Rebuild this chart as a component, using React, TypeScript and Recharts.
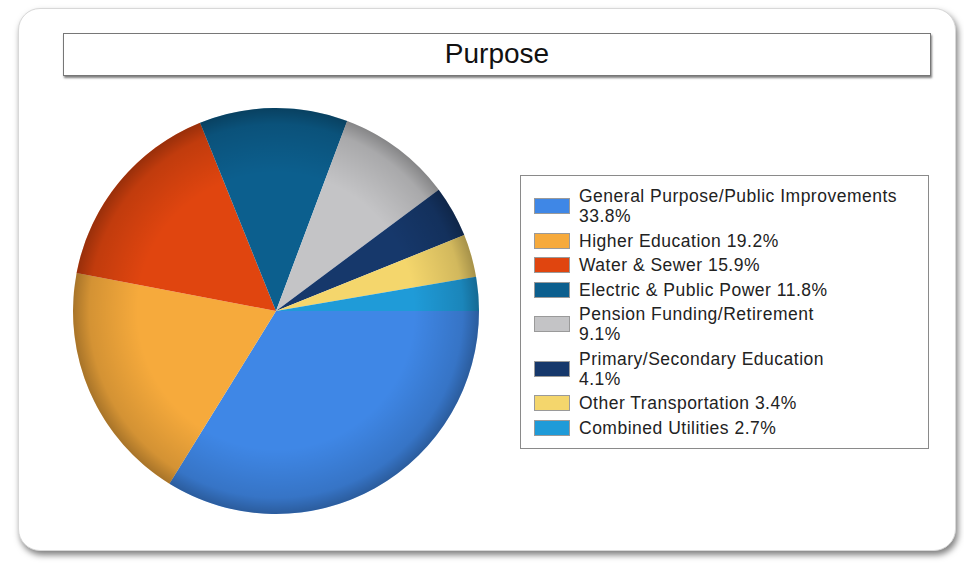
import React from 'react'
import { PieChart, Pie, Cell, Legend } from 'recharts'

const CATEGORIES = [
  'General Purpose/Public Improvements',
  'Higher Education',
  'Water & Sewer',
  'Electric & Public Power',
  'Pension Funding/Retirement',
  'Primary/Secondary Education',
  'Other Transportation',
  'Combined Utilities',
]
const SHARES = [33.8, 19.2, 15.9, 11.8, 9.1, 4.1, 3.4, 2.7]
const COLORS = ['#3f87e6', '#f6aa3c', '#e0450f', '#0c5f8e', '#c4c4c6', '#16386b', '#f4d66c', '#1f9bd8']

const DATA = CATEGORIES.map((name, i) => ({ name, value: SHARES[i] }))
const SHADE = [{ name: 'shade', value: 1 }]

const FONT = 'Arial, "Liberation Sans", sans-serif'

// long names push the percentage onto a second line, like the original
const LegendBox = ({ payload }: any) => {
  const items = (payload || [])
    .filter((p: any) => CATEGORIES.includes(p.value))
    .sort((a: any, b: any) => CATEGORIES.indexOf(a.value) - CATEGORIES.indexOf(b.value))
  return (
    <div style={{ border: '1px solid #8a8a8a', background: '#fff', width: 394, padding: '10px 0 6px 13px', fontFamily: FONT }}>
      {items.map((p: any) => {
        const pct = SHARES[CATEGORIES.indexOf(p.value)]
        const wrap = p.value.length > 25
        return (
          <div key={p.value} style={{ display: 'flex', alignItems: 'center', marginBottom: 4.5 }}>
            <div style={{ width: 34, height: 14, flex: 'none', background: p.color, border: '1px solid #9a9a9a', marginRight: 9 }} />
            <div style={{ fontSize: 17.5, lineHeight: '20px', color: '#222', letterSpacing: 0.5, whiteSpace: 'nowrap' }}>
              {p.value}{wrap ? <br /> : ' '}{pct}%
            </div>
          </div>
        )
      })}
    </div>
  )
}

export default function App() {
  return (
    <div style={{ position: 'fixed', left: 0, top: 0, width: 964, height: 563, background: '#fff', overflow: 'hidden' }}>
      <div style={{
        position: 'absolute', left: 18, top: 8, width: 936, height: 541, borderRadius: 22,
        border: '1px solid #d8d8d8', background: '#fff', boxShadow: '2px 4px 6px rgba(0,0,0,0.5)',
      }} />
      <div style={{
        position: 'absolute', left: 63, top: 33, width: 866, height: 41, border: '1px solid #777',
        boxShadow: '1px 2px 2px rgba(0,0,0,0.5)', background: '#fff', textAlign: 'center',
        fontFamily: FONT, fontSize: 28, lineHeight: '40px', color: '#111',
      }}>Purpose</div>
      <div style={{ position: 'absolute', left: 0, top: 0 }}>
        <PieChart width={964} height={563} margin={{ top: 0, right: 0, bottom: 0, left: 0 }}>
          <defs>
            <radialGradient id="shade" cx="50%" cy="50%" r="50%">
              <stop offset="68%" stopColor="#000" stopOpacity={0} />
              <stop offset="92%" stopColor="#000" stopOpacity={0.14} />
              <stop offset="100%" stopColor="#000" stopOpacity={0.32} />
            </radialGradient>
          </defs>
          <Pie
            data={DATA} dataKey="value" nameKey="name" cx={276} cy={311} outerRadius={203}
            startAngle={0} endAngle={-360} stroke="none" isAnimationActive={false} legendType="rect"
          >
            {DATA.map((d, i) => <Cell key={d.name} fill={COLORS[i]} />)}
          </Pie>
          <Pie
            data={SHADE} dataKey="value" cx={276} cy={311} outerRadius={203} stroke="none"
            fill="url(#shade)" isAnimationActive={false} legendType="none"
          />
          <Legend
            layout="vertical" align="right" verticalAlign="top" content={<LegendBox />}
            wrapperStyle={{ left: 520, top: 175, width: 410 }}
          />
        </PieChart>
      </div>
    </div>
  )
}
